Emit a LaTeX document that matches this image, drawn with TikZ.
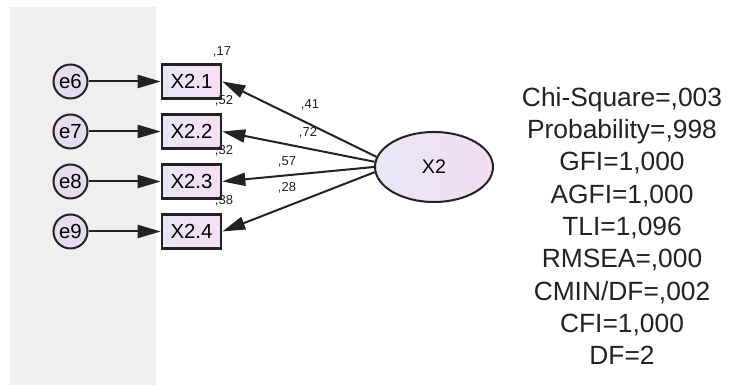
\documentclass[tikz,border=0pt]{standalone}
\usepackage{fontspec}
\setmainfont{Liberation Sans}
\usepackage{tikz}
\usetikzlibrary{arrows.meta,shapes.geometric}
\definecolor{panelgray}{RGB}{239,239,239}
\definecolor{lineclr}{RGB}{34,34,34}
\definecolor{boxleft}{RGB}{232,230,247}
\definecolor{boxright}{RGB}{247,222,243}
\definecolor{errfill}{RGB}{230,220,240}
\definecolor{latleft}{RGB}{232,232,246}
\definecolor{latright}{RGB}{244,220,242}
\tikzset{
	obs/.style={draw=lineclr, line width=0.26mm, minimum width=5.9mm, minimum height=3.4mm,
		inner sep=0pt, left color=boxleft, right color=boxright,
		font=\fontsize{5.8}{6}\selectfont},
	err/.style={draw=lineclr, circle, line width=0.2mm, minimum size=3.4mm, inner sep=0pt,
		fill=errfill, font=\fontsize{5.8}{6}\selectfont},
	lat/.style={draw=lineclr, ellipse, line width=0.2mm, minimum width=11.8mm,
		minimum height=7mm, inner sep=0pt, left color=latleft, right color=latright,
		font=\fontsize{5.6}{6}\selectfont},
	wt/.style={font=\fontsize{3.7}{4}\selectfont, inner sep=0pt, text=lineclr},
	stat/.style={align=center, font=\fontsize{7.5}{9.2}\selectfont, text=lineclr},
	lnk/.style={line width=0.2mm, draw=lineclr, -{Triangle[length=2.3mm,width=1.3mm]}},
}

\begin{document}
\begin{tikzpicture}[x=1cm, y=1cm]
	\useasboundingbox (0,0) rectangle (7.30,-3.85);
	% grey panel behind the error terms
	\fill[panelgray] (0.10,-0.07) rectangle (1.56,-3.85);
	% error terms
	\node[err] at (0.705,-0.815) (e6) {e6};
	\node[err] at (0.705,-1.315) (e7) {e7};
	\node[err] at (0.705,-1.815) (e8) {e8};
	\node[err] at (0.705,-2.315) (e9) {e9};
	% indicators
	\node[obs] at (1.915,-0.815) (x21) {X2.1};
	\node[obs] at (1.915,-1.315) (x22) {X2.2};
	\node[obs] at (1.915,-1.815) (x23) {X2.3};
	\node[obs] at (1.915,-2.315) (x24) {X2.4};
	% latent factor
	\node[lat] at (4.34,-1.67) (x2) {X2};
	\draw[lnk] (e6) -- (x21);
	\draw[lnk] (e7) -- (x22);
	\draw[lnk] (e8) -- (x23);
	\draw[lnk] (e9) -- (x24);
	\draw[lnk] (x2.170) -- (x21.east);
	\draw[lnk] (x2.175) -- (x22.east);
	\draw[lnk] (x2.180) -- (x23.east);
	\draw[lnk] (x2.185) -- (x24.east);
	% squared multiple correlations
	\node[wt] at (2.22,-0.52) (r21) {,17};
	\node[wt] at (2.24,-1.01) (r22) {,52};
	\node[wt] at (2.24,-1.51) (r23) {,32};
	\node[wt] at (2.24,-2.01) (r24) {,38};
	% loadings
	\node[wt] at (3.10,-1.05) (l21) {,41};
	\node[wt] at (3.08,-1.33) (l22) {,72};
	\node[wt] at (2.87,-1.62) (l23) {,57};
	\node[wt] at (2.87,-1.88) (l24) {,28};
	% fit indices
	\node[stat] at (6.22,-2.26) (gof) {Chi-Square=,003\\Probability=,998\\GFI=1,000\\AGFI=1,000\\TLI=1,096\\RMSEA=,000\\CMIN/DF=,002\\CFI=1,000\\DF=2};
\end{tikzpicture}
\end{document}
